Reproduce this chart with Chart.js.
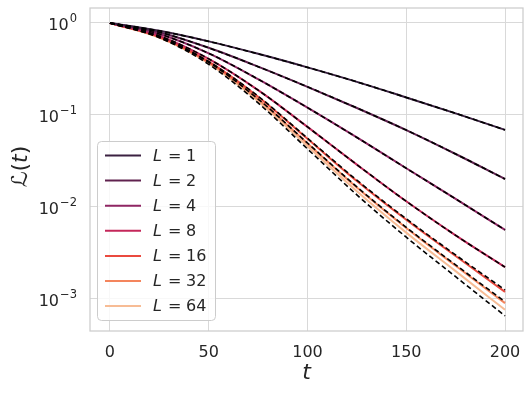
<!DOCTYPE html>
<html>
<head>
<meta charset="utf-8">
<script src="https://cdn.jsdelivr.net/npm/chart.js@4/dist/chart.umd.min.js"></script>
<style>
html,body{margin:0;padding:0;background:#fff;}
#wrap{width:532px;height:397px;position:relative;}
</style>
</head>
<body>
<div id="wrap"><canvas id="c" width="532" height="397"></canvas></div>
<script>
// ---- data ----
const steps = [0, 25, 50, 75, 100, 125, 150, 175, 200];
const depthLabels = ['1', '2', '4', '8', '16', '32', '64'];
const lossL1  = [1, 0.822, 0.631, 0.462, 0.329, 0.229, 0.155, 0.104, 0.0687];
const lossL2  = [1, 0.794, 0.537, 0.335, 0.202, 0.119, 0.0684, 0.0376, 0.0201];
const lossL4  = [1, 0.759, 0.468, 0.245, 0.120, 0.0569, 0.0263, 0.0122, 0.00562];
const lossL8  = [1, 0.724, 0.407, 0.186, 0.0741, 0.0288, 0.0115, 0.00490, 0.00221];
const lossL16 = [1, 0.708, 0.380, 0.158, 0.0550, 0.0191, 0.00724, 0.00292, 0.00119];
const lossL32 = [1, 0.700, 0.372, 0.148, 0.0490, 0.0162, 0.00589, 0.00229, 0.000897];
const lossL64 = [1, 0.692, 0.363, 0.141, 0.0457, 0.0148, 0.00525, 0.00200, 0.000759];
const theoryL1  = [1, 0.822, 0.631, 0.462, 0.329, 0.229, 0.155, 0.104, 0.0687];
const theoryL2  = [1, 0.794, 0.537, 0.335, 0.202, 0.119, 0.0684, 0.0376, 0.0201];
const theoryL4  = [1, 0.759, 0.468, 0.245, 0.120, 0.0569, 0.0263, 0.0122, 0.00562];
const theoryL8  = [1, 0.724, 0.407, 0.186, 0.0741, 0.0288, 0.0115, 0.00490, 0.00221];
const theoryL16 = [1, 0.708, 0.381, 0.160, 0.0558, 0.0195, 0.00742, 0.00300, 0.00125];
const theoryL32 = [1, 0.700, 0.373, 0.149, 0.0495, 0.0165, 0.00600, 0.00234, 0.000930];
const theoryL64 = [1, 0.692, 0.355, 0.135, 0.0427, 0.0135, 0.00468, 0.00174, 0.000653];
const yTickValues = [1e-3, 1e-2, 1e-1, 1];
const yTickExponents = ['\u22123', '\u22122', '\u22121', '0'];
const xTickValues = [0, 50, 100, 150, 200];

const colors = ['#3b2141', '#60224f', '#8f2663', '#c4275a', '#ea4a3f', '#f4855d', '#f7bc95'];
const lossSeries = [lossL1, lossL2, lossL4, lossL8, lossL16, lossL32, lossL64];
const theorySeries = [theoryL1, theoryL2, theoryL4, theoryL8, theoryL16, theoryL32, theoryL64];

const toPts = arr => arr.map((v, i) => ({x: steps[i], y: v}));
const datasets = [];
lossSeries.forEach((s, i) => {
  datasets.push({
    label: 'L = ' + depthLabels[i], data: toPts(s), borderColor: colors[i],
    borderWidth: 2, pointRadius: 0, cubicInterpolationMode: 'monotone', order: 2, isLoss: true
  });
});
theorySeries.forEach((s, i) => {
  datasets.push({
    label: 'theory ' + depthLabels[i], data: toPts(s), borderColor: '#000000',
    borderWidth: 1.6, borderDash: [5, 3], pointRadius: 0, cubicInterpolationMode: 'monotone', order: 1
  });
});

const TEXT = '#262626';

const framePlugin = {
  id: 'frame',
  beforeDatasetsDraw(chart) {
    const {ctx, chartArea: a} = chart;
    ctx.save();
    ctx.strokeStyle = '#cccccc';
    ctx.lineWidth = 1.25;
    ctx.strokeRect(a.left, a.top, a.right - a.left, a.bottom - a.top);
    ctx.restore();
  },
  afterDraw(chart) {
    const ctx = chart.ctx;
    const ys = chart.scales.y;
    const a = chart.chartArea;
    ctx.save();
    ctx.fillStyle = TEXT;
    // y tick labels 10^k
    yTickValues.forEach((v, i) => {
      const py = ys.getPixelForValue(v);
      const exp = yTickExponents[i];
      ctx.font = '11.5px "DejaVu Sans"';
      const ew = ctx.measureText(exp).width;
      ctx.font = '16px "DejaVu Sans"';
      const bw = ctx.measureText('10').width;
      const right = a.left - 13;
      ctx.textBaseline = 'alphabetic';
      ctx.textAlign = 'left';
      ctx.fillText('10', right - ew - bw - 1, py + 7);
      ctx.font = '11.5px "DejaVu Sans"';
      ctx.fillText(exp, right - ew, py - 1);
    });
    // y title
    ctx.save();
    ctx.translate(21, (a.top + a.bottom) / 2 - 3);
    ctx.rotate(-Math.PI / 2);
    ctx.textBaseline = 'middle';
    ctx.textAlign = 'left';
    const parts = [['\u2112', '22px "DejaVu Sans"'], ['(', '22px "DejaVu Sans"'], ['t', 'italic 22px "DejaVu Sans"'], [')', '22px "DejaVu Sans"']];
    let tw = 0;
    parts.forEach(p => { ctx.font = p[1]; tw += ctx.measureText(p[0]).width; });
    let xx = -tw / 2;
    parts.forEach(p => { ctx.font = p[1]; ctx.fillText(p[0], xx, 0); xx += ctx.measureText(p[0]).width; });
    ctx.restore();
    // legend
    const bx = 97.5, by = 141.5, bw = 118, bh = 179;
    ctx.beginPath();
    ctx.roundRect(bx, by, bw, bh, 4);
    ctx.fillStyle = 'rgba(255,255,255,0.8)';
    ctx.fill();
    ctx.strokeStyle = '#cccccc';
    ctx.lineWidth = 1;
    ctx.stroke();
    chart.data.datasets.filter(d => d.isLoss).forEach((d, i) => {
      const y = 155.5 + i * 25.1;
      ctx.beginPath();
      ctx.moveTo(105, y); ctx.lineTo(141, y);
      ctx.strokeStyle = d.borderColor; ctx.lineWidth = 2; ctx.stroke();
      ctx.fillStyle = TEXT;
      ctx.textBaseline = 'middle';
      ctx.textAlign = 'left';
      ctx.font = 'italic 16px "DejaVu Sans"';
      ctx.fillText('L', 153, y + 1);
      ctx.font = '16px "DejaVu Sans"';
      ctx.fillText('=', 168, y + 1);
      ctx.fillText(depthLabels[i], 186, y + 1);
    });
    ctx.restore();
  }
};

new Chart(document.getElementById('c'), {
  type: 'line',
  data: {datasets},
  options: {
    responsive: false, animation: false,
    layout: {padding: {top: 8, right: 9, left: 0, bottom: 0}},
    plugins: {legend: {display: false}, tooltip: {enabled: false}},
    scales: {
      x: {
        type: 'linear', min: -10.1, max: 209.1,
        afterBuildTicks: s => { s.ticks = xTickValues.map(v => ({value: v})); },
        afterFit: s => { s.height = 66; s.paddingLeft = 0; s.paddingRight = 0; },
        grid: {color: '#d9d9d9', lineWidth: 1, drawTicks: false},
        border: {display: false},
        ticks: {color: TEXT, font: {family: 'DejaVu Sans', size: 16}, padding: 12, maxRotation: 0},
        title: {display: true, text: 't', color: TEXT, font: {family: 'DejaVu Sans', size: 22, style: 'italic'}, padding: {top: 0, bottom: 11}}
      },
      y: {
        type: 'logarithmic', min: Math.pow(10, -3.35), max: Math.pow(10, 0.163),
        afterBuildTicks: s => { s.ticks = yTickValues.map(v => ({value: v})); },
        afterFit: s => { s.width = 90; s.paddingTop = 0; s.paddingBottom = 0; },
        grid: {color: '#d9d9d9', lineWidth: 1, drawTicks: false},
        border: {display: false},
        ticks: {display: true, color: 'rgba(0,0,0,0)', font: {family: 'DejaVu Sans', size: 16}, padding: 13,
          callback: () => ''},
        title: {display: false}
      }
    }
  },
  plugins: [framePlugin]
});
</script>
</body>
</html>
